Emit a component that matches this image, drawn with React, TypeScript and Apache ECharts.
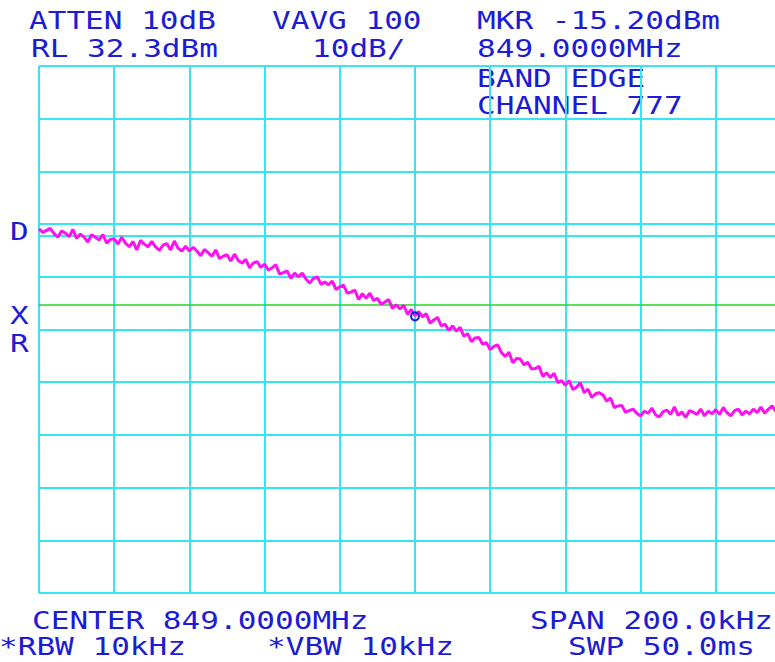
import React, { useEffect, useRef } from "react";
import * as echarts from "echarts";

// Sweep: 201 points, -100 kHz .. +100 kHz around 849.0000 MHz (span 200 kHz)
const SPAN_START_KHZ = -100;
const STEP_KHZ = 1;
// the picture is cropped on the right: only up to about +95.7 kHz is visible
const VISIBLE_END_KHZ = 95.75;

// Trace values (dBm)
const traceDbm: number[] = [
  1.4, 0.7, 1.1, 1.5, 0.5, -0.2, 1.0, 0.6, -0.1, 1.3,
  -0.4, 0.4, -0.2, -1.1, 0.3, -0.2, -0.7, 0.3, -1.3, -0.6,
  -0.5, -1.5, -0.2, -1.3, -2.0, -1.0, -2.6, -0.8, -1.5, -2.0,
  -1.0, -2.0, -2.7, -1.7, -1.4, -2.6, -0.9, -2.3, -2.8, -1.9,
  -2.8, -2.1, -2.8, -3.7, -2.5, -3.1, -3.8, -2.6, -4.2, -3.8,
  -3.5, -4.7, -3.4, -4.6, -5.1, -4.4, -6.0, -5.1, -4.8, -5.9,
  -5.3, -6.4, -6.0, -5.4, -7.2, -6.9, -6.6, -8.0, -7.0, -7.7,
  -7.0, -8.1, -8.9, -8.0, -7.7, -9.1, -8.7, -9.2, -8.5, -10.1,
  -9.6, -9.3, -10.8, -10.6, -10.2, -12.0, -10.9, -11.8, -10.8, -12.2,
  -11.8, -12.9, -12.5, -12.0, -13.7, -13.0, -13.8, -13.1, -14.8, -13.9,
  -15.1, -14.3, -15.3, -14.7, -16.5, -15.9, -15.4, -17.0, -16.7, -17.9,
  -17.0, -18.0, -17.3, -19.0, -18.5, -20.0, -19.3, -19.2, -20.5, -20.2,
  -21.5, -20.9, -20.6, -22.1, -22.8, -22.0, -24.0, -23.2, -23.3, -24.4,
  -23.9, -25.2, -25.1, -24.7, -26.6, -25.9, -26.8, -26.0, -27.8, -27.4,
  -28.3, -27.4, -29.1, -28.6, -27.8, -29.7, -29.0, -30.6, -29.9, -29.7,
  -30.1, -31.3, -30.7, -32.5, -32.2, -32.1, -33.4, -33.1, -32.8, -33.6,
  -34.1, -33.2, -33.6, -32.6, -33.9, -34.3, -33.3, -33.0, -33.8, -32.4,
  -34.0, -33.3, -34.4, -33.1, -33.4, -33.8, -32.8, -34.1, -33.2, -33.7,
  -32.9, -33.8, -32.5, -33.5, -34.1, -33.1, -32.8, -33.9, -33.2, -33.7,
  -32.8, -33.5, -32.4, -33.6, -32.8, -32.2, -33.3, -32.8, -32.2, -33.0, -32.5,
];

const REF_LEVEL = 32.3; // dBm, top of screen
const DB_PER_DIV = 10;
const DIVISIONS = 10;
const KHZ_PER_DIV = 20;
const DISPLAY_LINE = -13; // dBm
const MARKER_KHZ = 0;
const MARKER_DBM = -15.2;

// Annotation texts
const topLine1 = ["ATTEN 10dB", "VAVG 100", "MKR -15.20dBm"];
const topLine2 = ["RL 32.3dBm", "10dB/", "849.0000MHz"];
const bandLines = ["BAND EDGE", "CHANNEL 777"];
const sideLabels = ["D", "X", "R"];
const bottomLine1 = ["CENTER 849.0000MHz", "SPAN 200.0kHz"];
const bottomLine2 = ["*RBW 10kHz", "*VBW 10kHz", "SWP 50.0ms"];

const CYAN = "#35e6f2";
const BLUE = "#1c1cd6";
const MAGENTA = "#ff10f0";
const GREEN = "#22d822";

export default function App() {
  const ref = useRef<HTMLDivElement>(null);

  useEffect(() => {
    if (!ref.current) return;
    const chart = echarts.init(ref.current, undefined, { renderer: "svg" });

    const data = traceDbm.map((v, i) => [SPAN_START_KHZ + i * STEP_KHZ, v]);

    const FS = 24;
    const SX = 18.7 / (0.602 * FS);
    const font = `${FS}px "DejaVu Sans Mono", monospace`;
    const txt = (text: string, x: number, y: number) => ({
      type: "text",
      x,
      y,
      scaleX: SX,
      silent: true,
      style: {
        text,
        x: 0,
        y: 0,
        fill: BLUE,
        font,
        textAlign: "left",
        textVerticalAlign: "middle",
      },
    });

    const graphics = [
      txt(topLine1[0], 29, 21),
      txt(topLine1[1], 272, 21),
      txt(topLine1[2], 477, 21),
      txt(topLine2[0], 31, 49),
      txt(topLine2[1], 312, 49),
      txt(topLine2[2], 477, 49),
      txt(bandLines[0], 477, 78.5),
      txt(bandLines[1], 477, 106),
      txt(sideLabels[0], 10, 231.5),
      txt(sideLabels[1], 10, 315.5),
      txt(sideLabels[2], 10, 343.5),
      txt(bottomLine1[0], 32, 620.5),
      txt(bottomLine1[1], 530, 620.5),
      txt(bottomLine2[0], -1, 647),
      txt(bottomLine2[1], 267, 647),
      txt(bottomLine2[2], 568, 647),
    ];

    const yMax = REF_LEVEL;
    const yMin = REF_LEVEL - DB_PER_DIV * DIVISIONS;

    chart.setOption({
      animation: false,
      backgroundColor: "#ffffff",
      grid: { left: 39, top: 66, right: 0, height: 527, containLabel: false },
      xAxis: {
        type: "value",
        min: SPAN_START_KHZ,
        max: VISIBLE_END_KHZ,
        interval: KHZ_PER_DIV,
        axisLine: { show: true, lineStyle: { color: CYAN, width: 2 } },
        axisTick: { show: false },
        axisLabel: { show: false },
        splitLine: { show: true, showMaxLine: false, lineStyle: { color: CYAN, width: 2 } },
      },
      yAxis: {
        type: "value",
        min: yMin,
        max: yMax,
        interval: DB_PER_DIV,
        axisLine: { show: true, lineStyle: { color: CYAN, width: 2 } },
        axisTick: { show: false },
        axisLabel: { show: false },
        splitLine: { show: true, lineStyle: { color: CYAN, width: 2 } },
      },
      series: [
        {
          type: "line",
          data,
          showSymbol: false,
          symbol: "none",
          clip: true,
          lineStyle: { color: MAGENTA, width: 3 },
          z: 3,
          markLine: {
            silent: true,
            symbol: "none",
            label: { show: false },
            lineStyle: { color: GREEN, width: 1.5, type: "solid" },
            data: [{ yAxis: DISPLAY_LINE }],
            z: 2,
          },
          markPoint: {
            silent: true,
            symbol: "circle",
            symbolSize: 8,
            itemStyle: { color: "rgba(0,0,0,0)", borderColor: BLUE, borderWidth: 2 },
            label: { show: false },
            data: [{ coord: [MARKER_KHZ, MARKER_DBM] }],
          },
        },
      ],
      graphic: graphics,
    });

    return () => chart.dispose();
  }, []);

  return (
    <div
      ref={ref}
      style={{ position: "fixed", left: 0, top: 0, width: 775, height: 662, background: "#fff" }}
    />
  );
}
